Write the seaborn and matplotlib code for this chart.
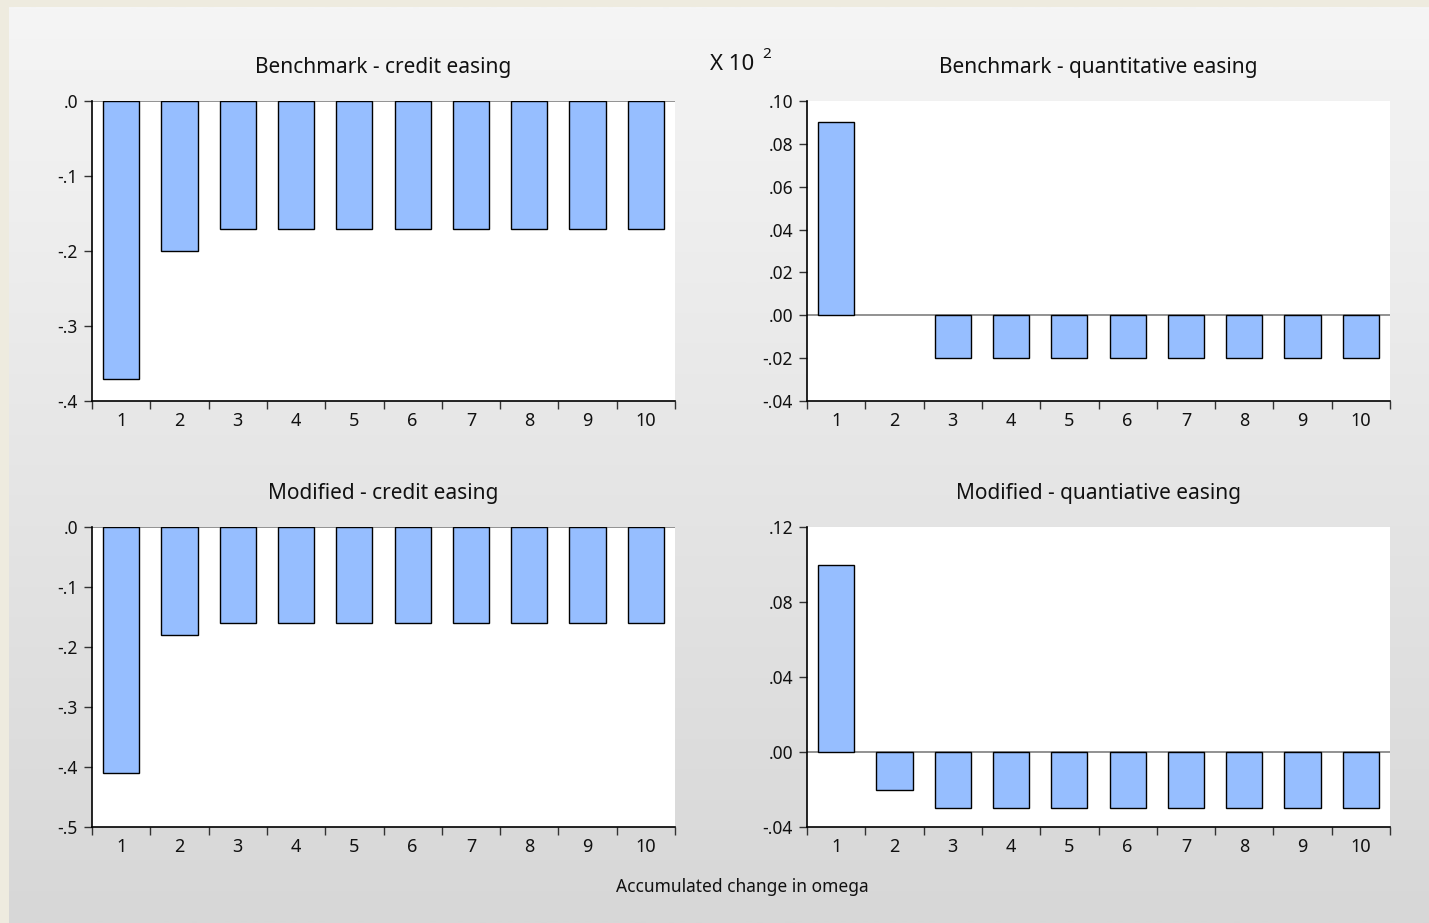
import numpy as np
import pandas as pd
import matplotlib
matplotlib.use("Agg")
import matplotlib.pyplot as plt
import seaborn as sns

# ---- data -------------------------------------------------------------
periods = [str(i) for i in range(1, 11)]

bench_credit = [-0.37, -0.20, -0.17, -0.17, -0.17, -0.17, -0.17, -0.17, -0.17, -0.17]
bench_quant = [0.09, 0.00, -0.02, -0.02, -0.02, -0.02, -0.02, -0.02, -0.02, -0.02]
mod_credit = [-0.41, -0.18, -0.16, -0.16, -0.16, -0.16, -0.16, -0.16, -0.16, -0.16]
mod_quant = [0.10, -0.02, -0.03, -0.03, -0.03, -0.03, -0.03, -0.03, -0.03, -0.03]

titles = [
    "Benchmark - credit easing",
    "Benchmark - quantitative easing",
    "Modified - credit easing",
    "Modified - quantiative easing",
]

yticks_bench_credit = [0.0, -0.1, -0.2, -0.3, -0.4]
yticks_bench_quant = [0.10, 0.08, 0.06, 0.04, 0.02, 0.00, -0.02, -0.04]
yticks_mod_credit = [0.0, -0.1, -0.2, -0.3, -0.4, -0.5]
yticks_mod_quant = [0.12, 0.08, 0.04, 0.00, -0.04]

x_label = "Accumulated change in omega"
scale_note = "X 10"
scale_exp = "2"

# ---- styling ----------------------------------------------------------
sns.set_theme(style="white")
plt.rcParams["font.family"] = ["Noto Sans", "DejaVu Sans"]

BAR_COLOR = "#96BEFF"
W, H = 1429, 923
fig = plt.figure(figsize=(W / 100, H / 100), dpi=100)

# background: beige frame with a light-to-grey vertical gradient panel
bg = fig.add_axes([0, 0, 1, 1], zorder=-10)
bg.set_axis_off()
bg.add_patch(plt.Rectangle((0, 0), W, H, color="#EEEBDF", zorder=1))
grad = np.linspace(0, 1, 256).reshape(-1, 1)
top_c = np.array([0xF5, 0xF5, 0xF5]) / 255
bot_c = np.array([0xD7, 0xD7, 0xD7]) / 255
img = top_c[None, None, :] * (1 - grad[:, :, None]) + bot_c[None, None, :] * grad[:, :, None]
bg.imshow(img, extent=[9, W, H, 7], aspect="auto", interpolation="bilinear", zorder=2)
bg.set_xlim(0, W)
bg.set_ylim(H, 0)


def fmt_tick(v, decimals):
    s = f"{v:.{decimals}f}"
    if s.startswith("-0."):
        s = "-" + s[2:]
    elif s.startswith("0."):
        s = s[1:]
    return s


def panel(rect, values, title, yticks, decimals):
    ax = fig.add_axes(rect)
    df = pd.DataFrame({"period": periods, "value": values})
    sns.barplot(data=df, x="period", y="value", ax=ax, color=BAR_COLOR,
                width=0.62, edgecolor="black", linewidth=1.0,
                saturation=1, errorbar=None)
    # a zero-height bar draws nothing
    for p in ax.patches:
        if p.get_height() == 0:
            p.set_visible(False)
    ax.set_facecolor("white")
    ax.set_xlim(-0.5, len(periods) - 0.5)
    ax.set_ylim(min(yticks), max(yticks))
    ax.axhline(0, color="#7F7F7F", lw=1.2, zorder=0.5)

    for side in ("top", "right"):
        ax.spines[side].set_visible(False)
    for side in ("left", "bottom"):
        ax.spines[side].set_visible(True)
        ax.spines[side].set_color("black")
        ax.spines[side].set_linewidth(1.2)

    ax.set_yticks(yticks)
    ax.set_yticklabels([fmt_tick(v, decimals) for v in yticks])
    ax.tick_params(axis="y", direction="out", length=6, width=1, color="#333333",
                   labelsize=12.5, pad=4, left=True, labelcolor="#111111")

    # category boundaries carry the ticks; numbers sit at bar centres
    ax.set_xticks(np.arange(len(periods) + 1) - 0.5)
    ax.set_xticklabels([])
    ax.set_xticks(np.arange(len(periods)), minor=True)
    ax.set_xticklabels(periods, minor=True)
    ax.tick_params(axis="x", which="major", direction="out", length=6, width=1,
                   color="#333333", bottom=True)
    ax.tick_params(axis="x", which="minor", length=0, labelsize=13, pad=8,
                   labelcolor="#111111")
    ax.set_xlabel("")
    ax.set_ylabel("")
    ax.grid(False)
    ax.set_title(title, fontsize=15, pad=20, color="#111111")
    return ax


lx, rx = 92 / W, 807 / W
aw = 583 / W
ah = 300 / H
ty = (H - 401) / H
by = (H - 827) / H

panel([lx, ty, aw, ah], bench_credit, titles[0], yticks_bench_credit, 1)
panel([rx, ty, aw, ah], bench_quant, titles[1], yticks_bench_quant, 2)
panel([lx, by, aw, ah], mod_credit, titles[2], yticks_mod_credit, 1)
panel([rx, by, aw, ah], mod_quant, titles[3], yticks_mod_quant, 2)

fig.text(710 / W, 1 - 65 / H, scale_note, fontsize=16, va="center", ha="left",
         color="#111111")
fig.text(762 / W, 1 - 54 / H, scale_exp, fontsize=11, va="center", ha="left",
         color="#111111")
fig.text(742 / W, 1 - 887 / H, x_label, fontsize=12.5, va="center", ha="center",
         color="#111111")

fig.savefig("out.png", dpi=100)
